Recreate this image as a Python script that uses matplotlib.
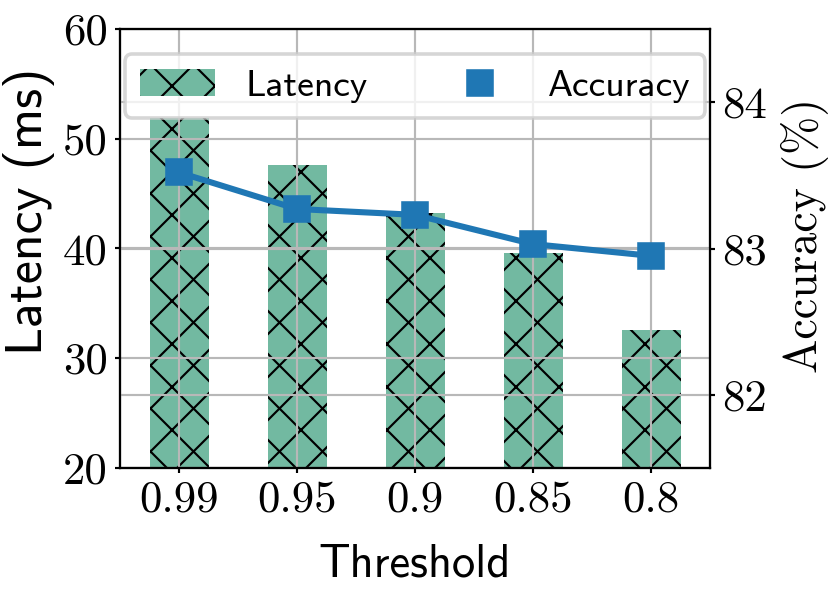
import matplotlib
matplotlib.use("Agg")
import matplotlib.pyplot as plt
from matplotlib.lines import Line2D
import numpy as np

# values
thresholds = ["0.99", "0.95", "0.9", "0.85", "0.8"]
latency = [51.9, 47.6, 43.2, 39.6, 32.6]
accuracy = [83.52, 83.27, 83.23, 83.03, 82.95]

DPI = 258
bar_color = "#72b9a1"
line_color = "#1f77b4"
tick_font = {"family": "cmr10", "size": 12.5}
plt.rcParams["hatch.linewidth"] = 0.6

fig = plt.figure(figsize=(830 / DPI, 590 / DPI), dpi=DPI)
ax = fig.add_axes([120 / 830, 122 / 590, 590 / 830, 439 / 590])
ax2 = ax.twinx()

x = np.arange(len(thresholds))
bars = ax.bar(x, latency, width=0.5, color=bar_color, hatch="xx",
              edgecolor="black", linewidth=0, label="Latency")
ax2.plot(x, accuracy, color=line_color, lw=1.7, marker="s", ms=6.5,
         mec=line_color, mew=1.0, solid_joinstyle="round")

ax.set_xlim(-0.5, 4.5)
ax.set_ylim(20, 60)
ax2.set_ylim(81.5, 84.5)
ax.set_xticks(x)
ax.set_xticklabels(thresholds, fontdict=tick_font)
ax.set_yticks([20, 30, 40, 50, 60])
ax.set_yticklabels(["20", "30", "40", "50", "60"], fontdict=tick_font)
ax2.set_yticks([82, 83, 84])
ax2.set_yticklabels(["82", "83", "84"], fontdict=tick_font)

for a in (ax, ax2):
    a.tick_params(length=1.5, width=0.6, pad=2)
    a.grid(True, color="#b8b8b8", lw=0.6)
    for s in a.spines.values():
        s.set_linewidth(0.6)

ax.set_xlabel("Threshold", family="cmss10", size=13, labelpad=6.5)
ax.set_ylabel("Latency (ms)", family="cmss10", size=14.5)
ax2.set_ylabel("Accuracy (%)", family="cmr10", size=12.8)
ax.yaxis.set_label_coords(-0.11, 0.585)
ax2.yaxis.set_label_coords(1.12, 0.53)

acc_handle = Line2D([], [], color=line_color, marker="s", ms=6.5, ls="none",
                    mew=1.0, mec=line_color)
ax2.legend([bars, acc_handle], ["Latency", "Accuracy"], ncol=2,
           loc="upper center", bbox_to_anchor=(0.5, 0.985),
           prop={"family": "cmss10", "size": 10.5})

fig.savefig("out.png", dpi=DPI)
